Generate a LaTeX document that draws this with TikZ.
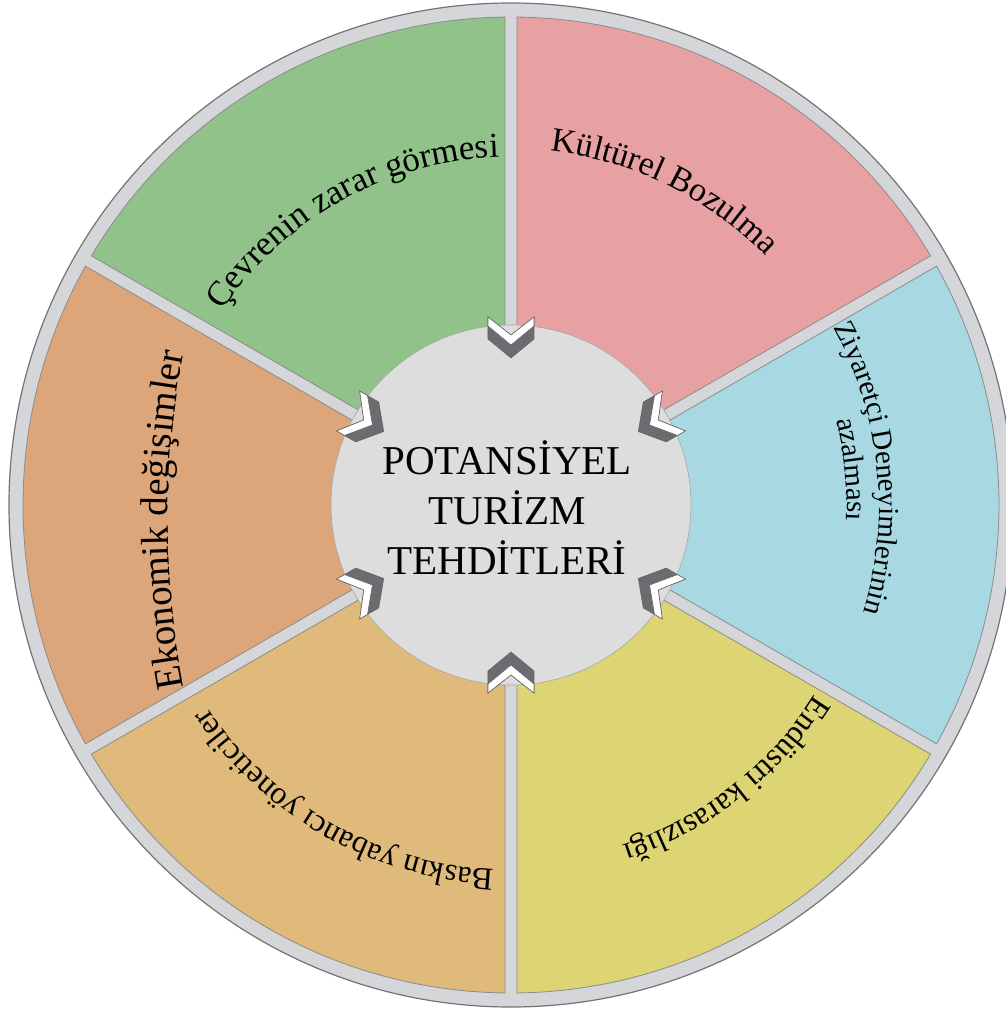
\documentclass[tikz,border=0pt]{standalone}
\usepackage{fontspec}
\setmainfont{Liberation Serif}
\usetikzlibrary{decorations.text}

\definecolor{ringgrey}{RGB}{213,214,218}
\definecolor{hubgrey}{RGB}{221,221,222}
\definecolor{chevrongrey}{RGB}{108,108,112}
\definecolor{sectorpink}{RGB}{232,161,163}
\definecolor{sectorgreen}{RGB}{144,194,138}
\definecolor{sectororange}{RGB}{221,166,122}
\definecolor{sectortan}{RGB}{223,186,122}
\definecolor{sectoryellow}{RGB}{221,212,116}
\definecolor{sectorblue}{RGB}{168,217,226}

\newcommand{\sectorfont}[1]{\fontsize{#1}{#1}\selectfont}

\begin{document}
\begin{tikzpicture}[x=1pt, y=1pt,
        sectorpart/.style={draw=black!45, line width=0.8},
        chevronfront/.style={fill=white, draw=black!60, line width=0.6},
        chevronside/.style={fill=chevrongrey, draw=black!60, line width=0.6},
        arclabel/.style={decorate, decoration={text along path, text align=center}},
        ]
        \useasboundingbox (-511,-507) rectangle (495,505);
        % outer ring
        \fill[ringgrey] (0,0) circle (502);
        \draw[black!55, line width=1.2] (0,0) circle (502);
        % six sectors, the gaps between them are the spokes
        \foreach \a/\col in {30/sectorpink, 90/sectorgreen, 150/sectororange, 210/sectortan, 270/sectoryellow, 330/sectorblue}
            \filldraw[sectorpart, fill=\col] ({\a+30}:12) -- ({\a+0.7}:488) arc[start angle=\a+0.7, end angle=\a+59.3, radius=488] -- cycle;
        % hub
        \filldraw[fill=hubgrey, draw=black!35, line width=0.6] (0,0) circle (180);
        % chevrons pointing to the hub
        \foreach \a in {30,90,...,330} {
            \begin{scope}[shift={(\a:160)}, rotate=\a+180]
                \filldraw[chevronside] (13,0) -- (-6,23) -- (-28,23) -- (-10,0) -- (-28,-23) -- (-6,-23) -- cycle;
                \filldraw[chevronfront] (0,0) -- (-19,23) -- (-28,23) -- (-10,0) -- (-28,-23) -- (-19,-23) -- cycle;
            \end{scope}
        }
        \node[font=\fontsize{41}{50}\selectfont, align=center] (title) at (-4,-3) {POTANSİYEL\\TURİZM\\TEHDİTLERİ};
        % sector labels
        \path[arclabel, decoration={text={|\sectorfont{34}|Kültürel Bozulma}}] (94:356) arc[start angle=94, end angle=34, radius=356];
        \path[arclabel, decoration={text={|\sectorfont{35}|Çevrenin zarar görmesi}}] (153:348) arc[start angle=153, end angle=85, radius=348];
        \path[arclabel, decoration={text={|\sectorfont{29}|Ziyaretçi Deneyimlerinin}}] (40:368) arc[start angle=40, end angle=-28, radius=368];
        \path[arclabel, decoration={text={|\sectorfont{29}|azalması}}] (30:336) arc[start angle=30, end angle=-18, radius=336];
        \path[arclabel, decoration={text={|\sectorfont{32}|Endüstri karasızlığı}}] (-17:358) arc[start angle=-17, end angle=-87, radius=358];
        \path[arclabel, decoration={text={|\sectorfont{32}|Baskın yabancı yöneticiler}}] (-81.5:365) arc[start angle=-81.5, end angle=-157.5, radius=365];
        \path[arclabel, shift={(557,-15)}, decoration={text={|\sectorfont{39}|Ekonomik değişimler}}] (194:900) arc[start angle=194, end angle=166, radius=900];
\end{tikzpicture}
\end{document}
